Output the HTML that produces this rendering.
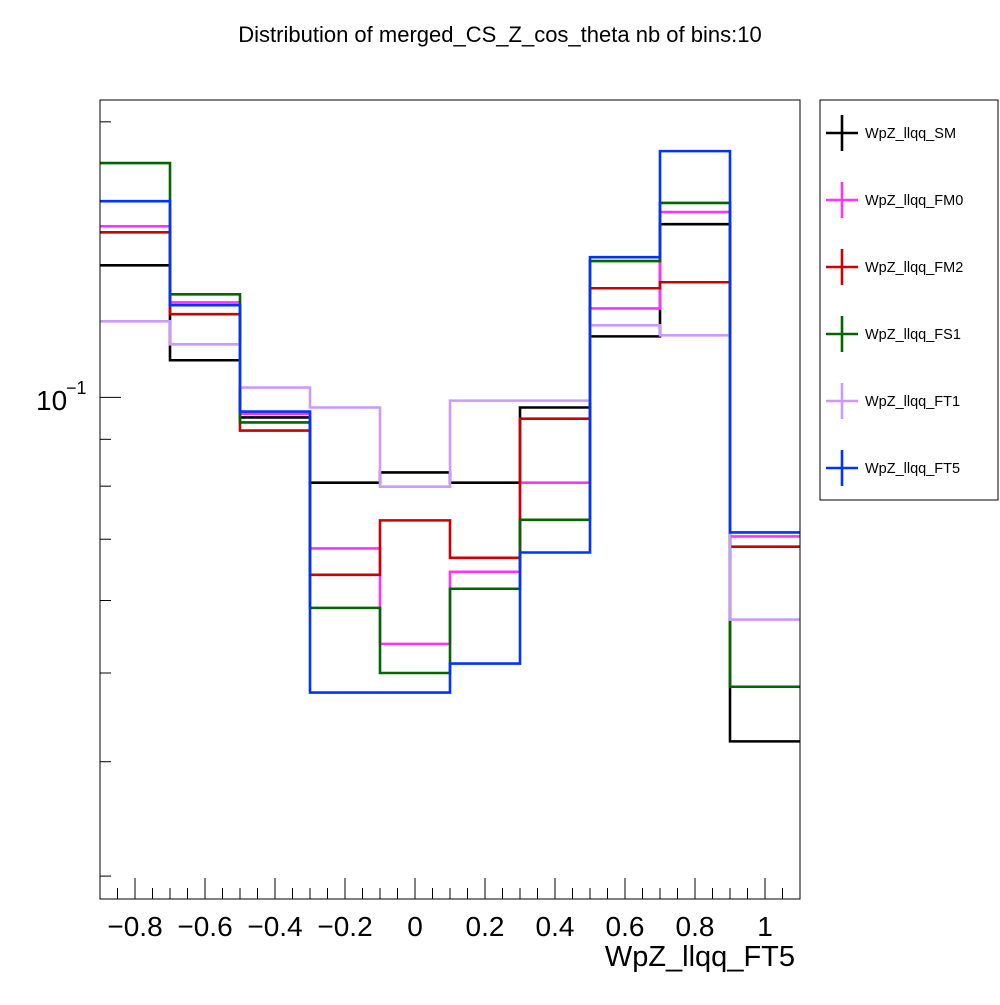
<!DOCTYPE html>
<html><head><meta charset="utf-8"><style>
body{margin:0;background:#fff;}
svg text{font-family:"Liberation Sans",sans-serif;}
</style></head><body>
<svg id="chart" width="1000" height="1000" viewBox="0 0 1000 1000" xmlns="http://www.w3.org/2000/svg">
<rect width="1000" height="1000" fill="#fff"/>
<text x="500" y="42" font-size="22" text-anchor="middle">Distribution of merged_CS_Z_cos_theta nb of bins:10</text>
<g id="marks"></g>
<g id="axes"></g>
<rect x="100" y="100" width="700" height="799" fill="none" stroke="#000" stroke-width="1"/>
<text x="795" y="966" font-size="29" text-anchor="end">WpZ_llqq_FT5</text>
<g><text x="36" y="410" font-size="28">10</text><text x="66" y="394" font-size="18">−1</text></g>
<g id="legend"><rect x="820" y="100" width="178" height="400" fill="#fff" stroke="#000" stroke-width="1"/></g>
</svg>
<script>
const edges = [-0.9,-0.7,-0.5,-0.3,-0.1,0.1,0.3,0.5,0.7,0.9,1.1];
const seriesNames = ["WpZ_llqq_SM","WpZ_llqq_FM0","WpZ_llqq_FM2","WpZ_llqq_FS1","WpZ_llqq_FT1","WpZ_llqq_FT5"];
const seriesColors = ["#000000","#ff33ff","#cc0000","#006600","#cc99ff","#0033ff"];
const valsSM  = [0.1394,0.1098,0.0951,0.0807,0.0828,0.0807,0.0975,0.1166,0.1546,0.0421];
const valsFM0 = [0.1538,0.1270,0.0960,0.0684,0.0538,0.0645,0.0807,0.1251,0.1594,0.0705];
const valsFM2 = [0.1515,0.1233,0.0920,0.0640,0.0734,0.0668,0.0948,0.1316,0.1336,0.0687];
const valsFS1 = [0.1803,0.1296,0.0939,0.0589,0.0500,0.0618,0.0735,0.1409,0.1631,0.0483];
const valsFT1 = [0.1211,0.1143,0.1025,0.0975,0.0799,0.0992,0.0992,0.1199,0.1169,0.0572];
const valsFT5 = [0.1638,0.1261,0.0965,0.0476,0.0476,0.0512,0.0677,0.1423,0.1858,0.0712];
const xTicks = [-0.8,-0.6,-0.4,-0.2,0,0.2,0.4,0.6,0.8,1];
const xTickLabels = ["−0.8","−0.6","−0.4","−0.2","0","0.2","0.4","0.6","0.8","1"];
const yMinorTicks = [0.03,0.04,0.05,0.06,0.07,0.08,0.09,0.2];

const NS="http://www.w3.org/2000/svg";
const X0=100,X1=800,Y0=100,Y1=899,xmin=-0.9,xmax=1.1;
const ymax=0.2113,ymin=0.02832;
const xs=v=>X0+(v-xmin)/(xmax-xmin)*(X1-X0);
const ys=v=>Y0+(Math.log10(ymax)-Math.log10(v))/(Math.log10(ymax)-Math.log10(ymin))*(Y1-Y0);
const all=[valsSM,valsFM0,valsFM2,valsFS1,valsFT1,valsFT5];
const marks=document.getElementById('marks');
all.forEach((vals,k)=>{
  let d='';
  vals.forEach((v,i)=>{
    const y=ys(v);
    d+=(i===0?'M':'L')+xs(edges[i])+','+y+'L'+xs(edges[i+1])+','+y;
  });
  const p=document.createElementNS(NS,'path');
  p.setAttribute('d',d);p.setAttribute('fill','none');
  p.setAttribute('stroke',seriesColors[k]);p.setAttribute('stroke-width','2.6');
  
  
  marks.appendChild(p);
});
const axes=document.getElementById('axes');
function line(x1,y1,x2,y2,name){
  const l=document.createElementNS(NS,'line');
  l.setAttribute('x1',x1);l.setAttribute('y1',y1);l.setAttribute('x2',x2);l.setAttribute('y2',y2);
  l.setAttribute('stroke','#000');l.setAttribute('stroke-width','1');
  
  
  axes.appendChild(l);
}
for(let i=-17;i<=21;i++){
  const v=i*0.05; if(v<xmin-1e-9||v>xmax+1e-9)continue;
  const major=Math.abs(Math.round(v*5)-v*5)<1e-6;
  line(xs(v),Y1,xs(v),Y1-(major?21:11),'x-tick');
}
xTicks.forEach((v,i)=>{
  const t=document.createElementNS(NS,'text');
  t.setAttribute('x',xs(v));t.setAttribute('y',Y1+37);t.setAttribute('font-size','28');
  t.setAttribute('text-anchor','middle');t.textContent=xTickLabels[i];
  
  
  axes.appendChild(t);
});
line(X0,ys(0.1),X0+21,ys(0.1),'y-major-tick');
yMinorTicks.forEach(v=>line(X0,ys(v),X0+11,ys(v),'y-minor-tick'));
const lg=document.getElementById('legend');
seriesNames.forEach((n,k)=>{
  const cy=133+k*67;
  const g=document.createElementNS(NS,'g');
  
  
  const c=seriesColors[k];
  g.innerHTML=`<line x1="826" y1="${cy}" x2="858" y2="${cy}" stroke="${c}" stroke-width="2.6"/><line x1="842" y1="${cy-18}" x2="842" y2="${cy+18}" stroke="${c}" stroke-width="2.6"/><text x="865" y="${cy+5}" font-size="14.5">${n}</text>`;
  lg.appendChild(g);
});
</script>
</body></html>
